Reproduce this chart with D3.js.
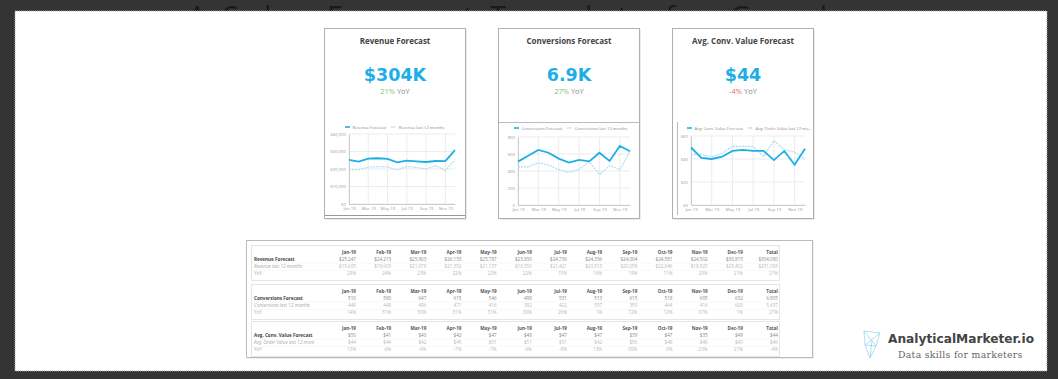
<!DOCTYPE html>
<html><head><meta charset="utf-8">
<script src="https://cdn.jsdelivr.net/npm/d3@7/dist/d3.min.js"></script>
<style>html,body{margin:0;padding:0;background:#333;}svg{display:block;}</style>
</head><body><svg id="c" width="1058" height="379"></svg>
<script>
// ---------- DATA ----------
const months = ["Jan-19","Feb-19","Mar-19","Apr-19","May-19","Jun-19","Jul-19","Aug-19","Sep-19","Oct-19","Nov-19","Dec-19"];
const axisLabels = ["Jan 19","Feb 19","Mar 19","Apr 19","May 19","Jun 19","Jul 19","Aug 19","Sep 19","Oct 19","Nov 19","Dec 19"];

const revenueForecast = [25247,24213,25903,26133,25787,23830,24730,24336,24004,24581,24502,30815];
const revenueLast12   = [19605,19605,21079,21352,21137,19550,21421,20913,20058,22046,18925,25402];
const revenueYoY      = ["29%","24%","23%","22%","22%","22%","15%","16%","19%","11%","29%","21%"];
const revenueTotals   = ["$304,080","$251,093","21%"];

const convForecast = [510,580,647,615,546,498,531,513,615,518,695,632];
const convLast12   = [448,448,496,471,416,382,422,507,359,464,416,628];
const convYoY      = ["14%","31%","30%","31%","31%","30%","26%","1%","72%","12%","67%","1%"];
const convTotals   = ["6,905","5,437","27%"];

const aovForecast = [50,41,40,42,47,48,47,47,39,47,35,49];
const aovLast12   = [44,44,42,45,51,51,51,42,56,48,46,40];
const aovYoY      = ["13%","-6%","-6%","-7%","-7%","-6%","-8%","13%","-30%","-3%","-23%","21%"];
const aovTotals   = ["$44","$46","-4%"];

const pageHeading = "A Sales Forecast Template for Google";

const scorecards = [
  {title:"Revenue Forecast", value:"$304K", yoy:"21%", up:true,
   leg:["Revenue Forecast","Revenue last 12 months"], f:revenueForecast, l:revenueLast12,
   yTicks:[0,10000,20000,30000,40000], yFmt:v=>"$"+d3.format(",")(v)},
  {title:"Conversions Forecast", value:"6.9K", yoy:"27%", up:true,
   leg:["Conversions Forecast","Conversions last 12 months"], f:convForecast, l:convLast12,
   yTicks:[0,200,400,600,800], yFmt:v=>d3.format(",")(v)},
  {title:"Avg. Conv. Value Forecast", value:"$44", yoy:"-4%", up:false,
   leg:["Avg. Conv. Value Forecast","Avg. Order Value last 12 mo..."], f:aovForecast, l:aovLast12,
   yTicks:[0,20,40,60], yFmt:v=>"$"+v}
];

// ---------- LAYOUT ----------
const svg = d3.select("#c");
const BLUE = "#1eaee6", LIGHT = "#a6dcf4";
const FONT = "'Open Sans', Lato, sans-serif";

svg.append("rect").attr("width",1058).attr("height",379).attr("fill","#343434");
// heading: only the tops of capitals/ascenders peek out above the page
svg.append("text").attr("x",188).attr("y",26.5).attr("font-family",FONT).attr("font-size",29)
  .attr("textLength",660).attr("lengthAdjust","spacing")
  .attr("fill","#1a1a1a").text(pageHeading);
svg.append("rect").attr("x",15).attr("y",11).attr("width",1032).attr("height",360)
  .attr("fill","#fff").attr("stroke","#aaa").attr("stroke-dasharray","1,1").attr("stroke-width",1);

const cardBoxes = [
  {x:324.5,y:28.5,w:141,h:190, plot:{l:349,r:455,t:134,b:204}, legY:127},
  {x:498.5,y:28.5,w:141,h:190, plot:{l:518,r:630,t:137,b:205}, legY:128},
  {x:672.5,y:28.5,w:141,h:190, plot:{l:691,r:805,t:136,b:205}, legY:128}
];

scorecards.forEach((sc,i)=>{
  const b = cardBoxes[i];
  const g = svg.append("g");
  g.append("rect").attr("x",b.x+1).attr("y",b.y+1).attr("width",b.w).attr("height",b.h).attr("fill","#d8d8d8");
  g.append("rect").attr("x",b.x).attr("y",b.y).attr("width",b.w).attr("height",b.h)
    .attr("fill","#fff").attr("stroke","#b0b0b0");
  const cx = b.x + b.w/2;
  g.append("text").attr("x",cx).attr("y",44).attr("text-anchor","middle").attr("font-family",FONT)
    .attr("font-weight",700).attr("font-size",8).attr("fill","#444").text(sc.title);
  g.append("text").attr("x",cx).attr("y",81).attr("text-anchor","middle").attr("font-family","'DejaVu Sans', sans-serif")
    .attr("font-weight",700).attr("font-size",17.5).attr("fill",BLUE).text(sc.value);
  const yt = g.append("text").attr("x",cx).attr("y",94).attr("text-anchor","middle").attr("font-family",FONT).attr("font-size",7.5);
  yt.append("tspan").attr("fill",sc.up?"#7cc56a":"#e8716c").text(sc.yoy);
  yt.append("tspan").attr("fill","#888").text(" YoY");

  const p = b.plot;
  const x = d3.scalePoint().domain(months).range([p.l,p.r]);
  const y = d3.scaleLinear().domain([0,d3.max(sc.yTicks)]).range([p.b,p.t]);
  // grid
  g.selectAll(".hg").data(sc.yTicks).join("line").attr("x1",p.l).attr("x2",p.r)
    .attr("y1",d=>y(d)).attr("y2",d=>y(d)).attr("stroke","#e4e4e4").attr("stroke-width",0.7);
  const tickMonths = months.filter((m,k)=>k%2===0);
  g.selectAll(".vg").data(tickMonths).join("line").attr("y1",p.t).attr("y2",p.b)
    .attr("x1",d=>x(d)).attr("x2",d=>x(d)).attr("stroke","#e4e4e4").attr("stroke-width",0.7);
  // axes
  const ya = d3.axisLeft(y).tickValues(sc.yTicks).tickFormat(sc.yFmt).tickSize(0).tickPadding(3);
  const yg = g.append("g").attr("transform",`translate(${p.l},0)`).call(ya);
  yg.select(".domain").attr("stroke","#bbb").attr("stroke-width",0.7);
  yg.selectAll("text").attr("font-family",FONT).attr("font-size",4.3).attr("fill","#999");
  const xa = d3.axisBottom(x).tickValues(tickMonths).tickFormat(m=>axisLabels[months.indexOf(m)]).tickSize(0).tickPadding(3);
  const xg = g.append("g").attr("transform",`translate(0,${p.b})`).call(xa);
  xg.select(".domain").attr("stroke","#bbb").attr("stroke-width",0.7);
  xg.selectAll("text").attr("font-family",FONT).attr("font-size",4.3).attr("fill","#999");
  // lines
  const line = d3.line().x((d,k)=>x(months[k])).y(d=>y(d));
  g.append("path").datum(sc.l).attr("d",line).attr("fill","none").attr("stroke",LIGHT)
    .attr("stroke-width",1.1).attr("stroke-dasharray","2,1");
  g.append("path").datum(sc.f).attr("d",line).attr("fill","none").attr("stroke",BLUE).attr("stroke-width",1.8);
  // legend (laid out by measured text width)
  let lx = p.l - 4;
  const lg = g.append("g").attr("font-family",FONT).attr("font-size",4.1).attr("fill","#888");
  sc.leg.forEach((name,k)=>{
    lg.append("line").attr("x1",lx).attr("x2",lx+5).attr("y1",b.legY).attr("y2",b.legY)
      .attr("stroke",k===0?BLUE:LIGHT).attr("stroke-width",1.6).attr("stroke-dasharray",k===0?null:"1.5,1");
    const t = lg.append("text").attr("x",lx+7.5).attr("y",b.legY+1.5).text(name);
    lx += 7.5 + t.node().getComputedTextLength() + 5;
  });
});
// artefact lines inside cards
svg.append("line").attr("x1",499).attr("x2",639).attr("y1",122.5).attr("y2",122.5).attr("stroke","#bbb");
svg.append("line").attr("x1",677.5).attr("x2",677.5).attr("y1",122).attr("y2",215).attr("stroke","#bbb");
svg.append("line").attr("x1",325).attr("x2",465).attr("y1",215.5).attr("y2",215.5).attr("stroke","#999");

// ---------- TABLE ----------
svg.append("rect").attr("x",247.5).attr("y",241.5).attr("width",566).attr("height",117).attr("fill","#ddd");
svg.append("rect").attr("x",246.5).attr("y",240.5).attr("width",566).attr("height",117)
  .attr("fill","#fff").attr("stroke","#bbb");
const colX = d3.scaleLinear().domain([0,12]).range([356,778]);
const fmtD = v=>"$"+d3.format(",")(v), fmtN = v=>d3.format(",")(v);
const sections = [
  {top:245, rows:[["Revenue Forecast",revenueForecast.map(fmtD),revenueTotals[0],"b"],
                  ["Revenue last 12 months",revenueLast12.map(fmtD),revenueTotals[1],"i"],
                  ["YoY",revenueYoY,revenueTotals[2],"y"]]},
  {top:284, rows:[["Conversions Forecast",convForecast.map(fmtN),convTotals[0],"b"],
                  ["Conversions last 12 months",convLast12.map(fmtN),convTotals[1],"i"],
                  ["YoY",convYoY,convTotals[2],"y"]]},
  {top:321, rows:[["Avg. Conv. Value Forecast",aovForecast.map(v=>"$"+v),aovTotals[0],"b"],
                  ["Avg. Order Value last 12 mont",aovLast12.map(v=>"$"+v),aovTotals[1],"i"],
                  ["YoY",aovYoY,aovTotals[2],"y"]]}
];
const tg = svg.append("g").attr("font-family",FONT).attr("font-size",4.6);
sections.forEach(s=>{
  tg.append("rect").attr("x",251.5).attr("y",s.top+0.5).attr("width",528).attr("height",35)
    .attr("fill","none").attr("stroke","#aaa").attr("stroke-width",0.6).attr("stroke-dasharray","1,1");
  const hy = s.top+8.5;
  months.concat(["Total"]).forEach((m,k)=>{
    tg.append("text").attr("x",colX(k)).attr("y",hy).attr("text-anchor","end")
      .attr("font-weight",700).attr("fill","#555").text(m);
  });
  s.rows.forEach((r,ri)=>{
    const ry = hy + 7.3*(ri+1);
    const isB = r[3]==="b", isI=r[3]==="i";
    tg.append("text").attr("x",254).attr("y",ry).attr("font-weight",isB?700:400)
      .attr("font-style",isI?"italic":"normal").attr("fill",isB?"#444":"#aaa").text(r[0]);
    r[1].concat([r[2]]).forEach((v,k)=>{
      tg.append("text").attr("x",colX(k)).attr("y",ry).attr("text-anchor","end")
        .attr("fill",isB?"#888":"#b8b8b8").text(v);
    });
    if(ri<2) tg.append("line").attr("x1",252).attr("x2",779).attr("y1",ry+2.2).attr("y2",ry+2.2)
      .attr("stroke","#e2e2e2").attr("stroke-width",0.5).attr("stroke-dasharray","1,1");
  });
});

// ---------- LOGO ----------
const logo = svg.append("g");
const ic = logo.append("g").attr("fill","none").attr("stroke","#9ad6f0").attr("stroke-width",0.8);
ic.append("path").attr("d","M864,331 L880,333 L876,346 L870,358 L865,345 Z");
ic.append("path").attr("d","M864,331 L876,346 M880,333 L865,345 M870,358 L872,340 M865,345 L876,346");
logo.append("text").attr("x",888).attr("y",343).attr("font-family","'DejaVu Sans', sans-serif")
  .attr("font-weight",700).attr("font-size",12.2).attr("fill","#444").text("AnalyticalMarketer.io");
logo.append("text").attr("x",898).attr("y",358).attr("font-family","'DejaVu Serif', serif")
  .attr("font-size",9.3).attr("fill","#666").attr("letter-spacing",0.3).text("Data skills for marketers");
</script></body></html>
